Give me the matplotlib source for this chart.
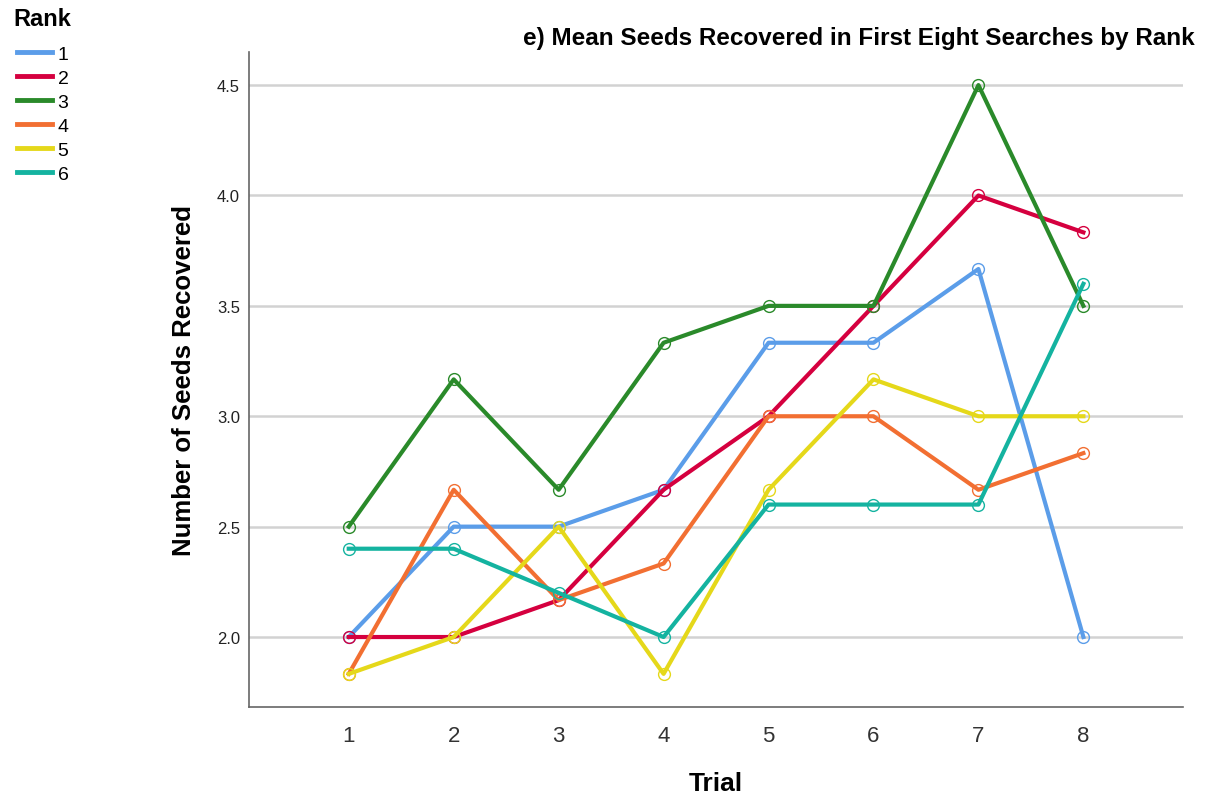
import matplotlib
matplotlib.use("Agg")
import matplotlib.pyplot as plt
from matplotlib.lines import Line2D

plt.rcParams['font.family'] = ['Liberation Sans', 'DejaVu Sans']

# data
trials = [1, 2, 3, 4, 5, 6, 7, 8]
ranks = ['1', '2', '3', '4', '5', '6']
rank1 = [2.0, 2.5, 2.5, 2.667, 3.333, 3.333, 3.667, 2.0]
rank2 = [2.0, 2.0, 2.167, 2.667, 3.0, 3.5, 4.0, 3.833]
rank3 = [2.5, 3.167, 2.667, 3.333, 3.5, 3.5, 4.5, 3.5]
rank4 = [1.833, 2.667, 2.167, 2.333, 3.0, 3.0, 2.667, 2.833]
rank5 = [1.833, 2.0, 2.5, 1.833, 2.667, 3.167, 3.0, 3.0]
rank6 = [2.4, 2.4, 2.2, 2.0, 2.6, 2.6, 2.6, 3.6]
y_ticks = [2.0, 2.5, 3.0, 3.5, 4.0, 4.5]

series = [rank1, rank2, rank3, rank4, rank5, rank6]
colors = ['#5b9de9', '#d5003f', '#2a8a2a', '#f26f32', '#e5d81a', '#14b3a0']

fig = plt.figure(figsize=(12.06, 8.03), dpi=100)
ax = fig.add_axes([0.2065, 0.1183, 0.7745, 0.8157])

# horizontal grid lines
for t in y_ticks:
    ax.axhline(t, color='#d2d2d2', linewidth=1.8, zorder=0)

# lines with open circle markers
for vals, c in zip(series, colors):
    ax.plot(trials, vals, color=c, linewidth=3.0, marker='o', markersize=8.5,
            markerfacecolor='none', markeredgecolor=c, markeredgewidth=1.0,
            zorder=3)

ax.set_xlim(0.05, 8.95)
ax.set_ylim(1.683, 4.65)
ax.set_xticks(trials)
ax.set_xticklabels([str(t) for t in trials], fontsize=16, color='#333333')
ax.set_yticks(y_ticks)
ax.set_yticklabels(['%.1f' % t for t in y_ticks], fontsize=12, color='#222222')
ax.tick_params(axis='both', length=0)
ax.tick_params(axis='x', pad=13)
ax.tick_params(axis='y', pad=6.5)

for side in ['top', 'right']:
    ax.spines[side].set_visible(False)
for side in ['left', 'bottom']:
    ax.spines[side].set_color('#666666')
    ax.spines[side].set_linewidth(1.2)

ax.set_xlabel('Trial', fontsize=19, fontweight='bold', labelpad=18)
ax.set_ylabel('Number of Seeds Recovered', fontsize=18.5, fontweight='bold', labelpad=15)

fig.text(0.991, 0.952, 'e) Mean Seeds Recovered in First Eight Searches by Rank',
         ha='right', va='center', fontsize=17.5, fontweight='bold')

# legend at top left
fig.text(0.011, 0.976, 'Rank', ha='left', va='center', fontsize=17, fontweight='bold')
handles = [Line2D([0], [0], color=c, linewidth=3.5) for c in colors]
leg = fig.legend(handles, ranks, loc='center left',
                 bbox_to_anchor=(0.014, 0.857), frameon=False, fontsize=14,
                 handlelength=1.8, handletextpad=0.3, labelspacing=0.33,
                 borderaxespad=0, borderpad=0)

fig.savefig('out.png', dpi=100)
